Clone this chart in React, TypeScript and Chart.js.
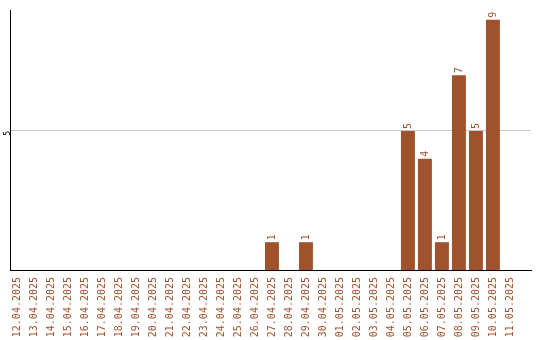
import { useEffect, useRef } from "react";
import { Chart, registerables } from "chart.js";

Chart.register(...registerables);

// Daily counts, 12.04.2025 – 11.05.2025
const dates: string[] = [
  "12.04.2025", "13.04.2025", "14.04.2025", "15.04.2025", "16.04.2025",
  "17.04.2025", "18.04.2025", "19.04.2025", "20.04.2025", "21.04.2025",
  "22.04.2025", "23.04.2025", "24.04.2025", "25.04.2025", "26.04.2025",
  "27.04.2025", "28.04.2025", "29.04.2025", "30.04.2025", "01.05.2025",
  "02.05.2025", "03.05.2025", "04.05.2025", "05.05.2025", "06.05.2025",
  "07.05.2025", "08.05.2025", "09.05.2025", "10.05.2025", "11.05.2025",
];

const counts: number[] = [
  0, 0, 0, 0, 0, 0, 0, 0, 0, 0,
  0, 0, 0, 0, 0, 1, 0, 1, 0, 0,
  0, 0, 0, 5, 4, 1, 7, 5, 9, 0,
];

const yTicks: number[] = [5];

const BROWN = "#a0522d";
const MONO = '"DejaVu Sans Mono", monospace';

// Writes each non-zero value vertically just above its bar
const valueLabels = {
  id: "valueLabels",
  afterDatasetsDraw(chart: Chart) {
    const ctx = chart.ctx;
    const meta = chart.getDatasetMeta(0);
    ctx.save();
    ctx.fillStyle = BROWN;
    ctx.font = `10px ${MONO}`;
    ctx.textAlign = "left";
    ctx.textBaseline = "middle";
    meta.data.forEach((el: any, i: number) => {
      const v = counts[i];
      if (!v) return;
      ctx.save();
      ctx.translate(el.x, el.y - 2);
      ctx.rotate(-Math.PI / 2);
      ctx.fillText(String(v), 0, 0);
      ctx.restore();
    });
    ctx.restore();
  },
};

export default function App() {
  const ref = useRef<HTMLCanvasElement | null>(null);

  useEffect(() => {
    document.body.style.margin = "0";
    const canvas = ref.current;
    if (!canvas) return;
    const chart = new Chart(canvas, {
      type: "bar",
      data: {
        datasets: [
          {
            data: counts.map((v, i) => ({ x: i, y: v })),
            backgroundColor: BROWN,
            borderWidth: 0,
            categoryPercentage: 1,
            barPercentage: 0.82,
          },
        ],
      },
      options: {
        animation: false,
        responsive: false,
        devicePixelRatio: 1,
        layout: { padding: { top: 10, right: 9, left: 0, bottom: 0 } },
        plugins: {
          legend: { display: false },
          tooltip: { enabled: false },
          title: { display: false },
        },
        scales: {
          x: {
            type: "linear",
            offset: false,
            min: -0.41,
            max: 30.24,
            grid: { display: false, drawTicks: false },
            border: { display: true, color: "#000", width: 1 },
            afterBuildTicks: (s: any) => {
              s.ticks = dates.map((_, i) => ({ value: i }));
            },
            afterFit: (s: any) => {
              s.height = 70;
            },
            ticks: {
              autoSkip: false,
              minRotation: 90,
              maxRotation: 90,
              padding: 7,
              color: BROWN,
              font: { family: MONO, size: 10 },
              callback: (v: any) => dates[v] ?? "",
            },
          },
          y: {
            min: 0,
            max: 9.35,
            grid: { color: "#c8c8c8", lineWidth: 1, drawTicks: false },
            border: { display: true, color: "#000", width: 1 },
            afterBuildTicks: (s: any) => {
              s.ticks = yTicks.map((v) => ({ value: v }));
            },
            afterFit: (s: any) => {
              s.width = 10;
            },
            ticks: {
              minRotation: 90,
              maxRotation: 90,
              padding: 2,
              color: "#000",
              font: { family: MONO, size: 8 },
            },
          },
        },
      },
      plugins: [valueLabels],
    });
    return () => chart.destroy();
  }, []);

  return (
    <div style={{ width: 540, height: 340 }}>
      <canvas ref={ref} width={540} height={340} style={{ display: "block" }} />
    </div>
  );
}
